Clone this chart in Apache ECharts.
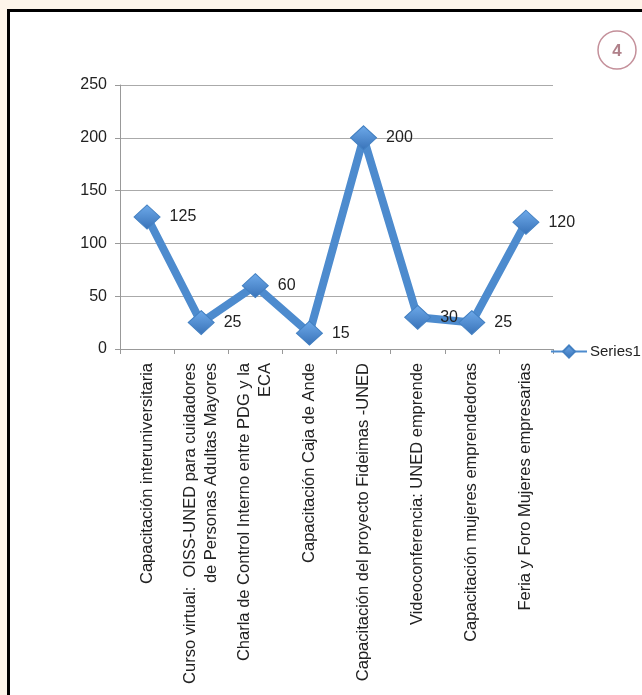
<!DOCTYPE html>
<html>
<head>
<meta charset="utf-8">
<script src="https://cdn.jsdelivr.net/npm/echarts@6/dist/echarts.min.js"></script>
<style>
html,body{margin:0;padding:0;background:#fdf5ea;width:642px;height:695px;overflow:hidden;}
#panel{position:absolute;left:7px;top:9px;width:700px;height:700px;background:#fff;border-left:3px solid #000;border-top:3px solid #000;}
#chart{position:absolute;left:0;top:0;width:642px;height:695px;}
</style>
</head>
<body>
<div id="panel"></div>
<div id="chart"></div>
<script>
const categories = [
  'Capacitación interuniversitaria',
  'Curso virtual:  OISS-UNED para cuidadores\nde Personas Adultas Mayores',
  'Charla de Control Interno entre PDG y la\nECA',
  'Capacitación Caja de Ande',
  'Capacitación del proyecto Fideimas -UNED',
  'Videoconferencia: UNED emprende',
  'Capacitación mujeres emprendedoras',
  'Feria y Foro Mujeres empresarias'
];
const series1 = [125, 25, 60, 15, 200, 30, 25, 120];
const seriesName = 'Series1';
const yTicks = {min: 0, max: 250, interval: 50};

const chart = echarts.init(document.getElementById('chart'), null, {renderer: 'canvas'});
const font = '"Liberation Sans", Arial, sans-serif';
const option = {
  backgroundColor: 'transparent',
  animation: false,
  textStyle: {fontFamily: font},
  grid: {left: 120, top: 85, right: 89, bottom: 346, containLabel: false},
  legend: {
    data: [seriesName],
    left: 550, top: 344,
    padding: 0,
    itemWidth: 36, itemHeight: 15,
    textStyle: {fontFamily: font, fontSize: 15, color: '#222', padding: [0, 0, 0, -2]}
  },
  xAxis: {
    type: 'category',
    data: categories,
    boundaryGap: true,
    axisLine: {lineStyle: {color: '#999', width: 1}},
    axisTick: {show: true, length: 5, lineStyle: {color: '#999'}},
    axisLabel: {interval: 0, rotate: 90, margin: 14, fontSize: 16.5, lineHeight: 21, color: '#222', fontFamily: font}
  },
  yAxis: {
    type: 'value',
    min: yTicks.min, max: yTicks.max, interval: yTicks.interval,
    axisLine: {show: true, lineStyle: {color: '#999', width: 1}},
    axisTick: {show: true, length: 5, lineStyle: {color: '#999'}},
    axisLabel: {margin: 13, fontSize: 16, color: '#222', fontFamily: font},
    splitLine: {lineStyle: {color: '#aaa', width: 1}}
  },
  series: [{
    name: seriesName,
    type: 'line',
    data: series1,
    symbol: 'diamond',
    symbolSize: [26, 24],
    lineStyle: {color: '#4d8bce', width: 8},
    itemStyle: {
      color: new echarts.graphic.LinearGradient(0, 0, 0, 1, [
        {offset: 0, color: '#6eaaea'},
        {offset: 1, color: '#3872b8'}
      ]),
      borderColor: '#4380c2', borderWidth: 1
    },
    label: {show: true, position: 'right', distance: 9, fontSize: 16, color: '#222', fontFamily: font}
  }],
  graphic: [{
    type: 'circle',
    shape: {cx: 617, cy: 50, r: 19},
    style: {fill: '#fff', stroke: '#c4909a', lineWidth: 1.5}
  }, {
    type: 'text',
    x: 617, y: 51,
    style: {text: '4', fill: '#b0818a', font: 'bold 17px ' + font, textAlign: 'center', textVerticalAlign: 'middle'}
  }]
};
chart.setOption(option);
</script>
</body>
</html>
